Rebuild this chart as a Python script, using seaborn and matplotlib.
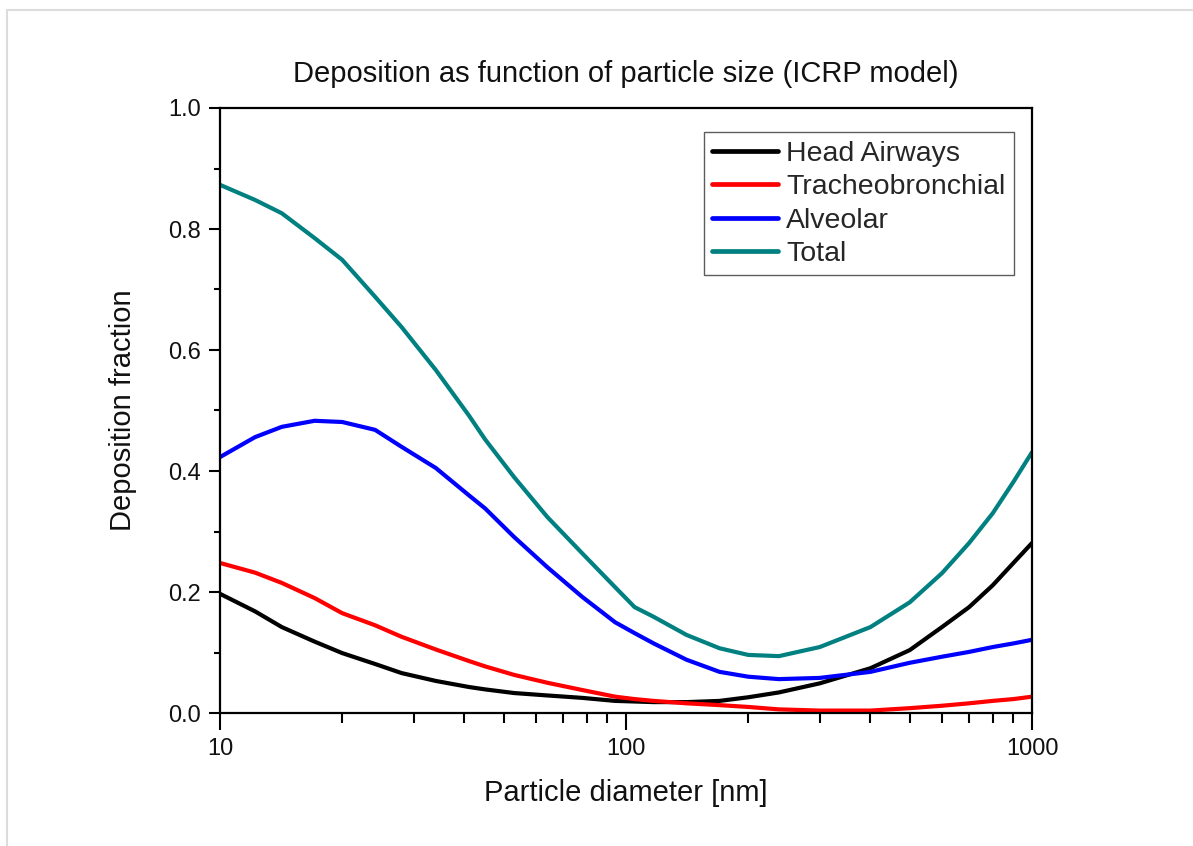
import matplotlib
matplotlib.use("Agg")
import matplotlib.pyplot as plt
from matplotlib.lines import Line2D
from matplotlib.ticker import FixedLocator, NullFormatter, MultipleLocator, FormatStrFormatter
import numpy as np
import pandas as pd
import seaborn as sns

diameter = [10, 12.2, 14.2, 17.1, 20, 24.1, 28, 34, 41, 45, 53, 64, 78, 94, 105, 117,
            141, 170, 200, 238, 300, 400, 500, 600, 700, 800, 900, 1000]
head_airways = [0.197, 0.168, 0.142, 0.118, 0.099, 0.081, 0.066, 0.053, 0.043, 0.039, 0.033,
                0.029, 0.025, 0.020, 0.019, 0.018, 0.018, 0.020, 0.026, 0.034, 0.049, 0.074,
                0.104, 0.142, 0.175, 0.211, 0.248, 0.281]
tracheobronchial = [0.248, 0.232, 0.215, 0.190, 0.165, 0.145, 0.126, 0.105, 0.086, 0.077, 0.063,
                    0.050, 0.038, 0.027, 0.023, 0.020, 0.016, 0.013, 0.010, 0.006, 0.004, 0.004,
                    0.008, 0.012, 0.016, 0.020, 0.023, 0.027]
alveolar = [0.423, 0.456, 0.473, 0.483, 0.481, 0.468, 0.440, 0.405, 0.360, 0.338, 0.291,
            0.241, 0.192, 0.150, 0.132, 0.115, 0.088, 0.068, 0.060, 0.056, 0.058, 0.068,
            0.083, 0.093, 0.101, 0.109, 0.115, 0.121]
total = [0.873, 0.848, 0.826, 0.785, 0.749, 0.688, 0.638, 0.567, 0.492, 0.452, 0.390,
         0.324, 0.264, 0.208, 0.175, 0.159, 0.129, 0.107, 0.096, 0.094, 0.109, 0.142,
         0.183, 0.231, 0.281, 0.330, 0.382, 0.431]

series_names = ["Head Airways", "Tracheobronchial", "Alveolar", "Total"]
series_colors = ["#000000", "#ff0000", "#0000ff", "#008080"]
x_major = [10, 100, 1000]
x_minor = [20, 30, 40, 50, 60, 70, 80, 90, 200, 300, 400, 500, 600, 700, 800, 900]

sns.set_theme(style="ticks")
plt.rcParams['font.family'] = ['Liberation Sans', 'DejaVu Sans']

fig = plt.figure(figsize=(11.93, 8.46), dpi=100)
ax = fig.add_axes([220/1193, 1-713/846, (1032-220)/1193, (713-108)/846])

for name, vals, col in zip(series_names, [head_airways, tracheobronchial, alveolar, total], series_colors):
    df = pd.DataFrame({"d": diameter, "v": vals})
    sns.lineplot(data=df, x="d", y="v", ax=ax, color=col, lw=3.0, label=name, sort=False)

ax.set_xscale("log")
ax.set_xlim(10, 1000)
ax.set_ylim(0, 1.0)
ax.xaxis.set_major_locator(FixedLocator(x_major))
ax.xaxis.set_minor_locator(FixedLocator(x_minor))
ax.xaxis.set_minor_formatter(NullFormatter())
ax.set_xticklabels([str(v) for v in x_major])
ax.yaxis.set_major_locator(MultipleLocator(0.2))
ax.yaxis.set_minor_locator(MultipleLocator(0.1))
ax.yaxis.set_major_formatter(FormatStrFormatter("%.1f"))

ax.tick_params(which="major", direction="out", length=8, width=1.5, labelsize=17,
               color="black", labelcolor="#111111", pad=6)
ax.tick_params(which="minor", direction="out", length=4, width=1.5, color="black")
ax.tick_params(axis="x", which="major", length=12)
ax.tick_params(axis="x", which="minor", length=7)
for s in ax.spines.values():
    s.set_visible(True)
    s.set_linewidth(1.6)
    s.set_color("black")

ax.set_xlabel("Particle diameter [nm]", fontsize=21, labelpad=14, color="#111111")
ax.set_ylabel("Deposition fraction", fontsize=21, labelpad=22, color="#111111")
ax.set_title("Deposition as function of particle size (ICRP model)", fontsize=21, pad=19,
             color="#111111")

leg = ax.legend(loc="upper right", bbox_to_anchor=((1014-220)/812, 0.96), fontsize=20.5,
                frameon=True, fancybox=False, edgecolor="#333333", handlelength=2.3,
                handletextpad=0.3, borderpad=0.3, labelspacing=0.26, borderaxespad=0)
leg.get_frame().set_linewidth(1.0)
for h in leg.get_lines():
    h.set_linewidth(3.4)

fig.add_artist(Line2D([7/1193, 1], [1-10/846, 1-10/846], color="#dcdcdc", lw=1.5,
                      transform=fig.transFigure))
fig.add_artist(Line2D([7/1193, 7/1193], [1-10/846, 0], color="#dcdcdc", lw=1.5,
                      transform=fig.transFigure))

fig.savefig("out.png", dpi=100, facecolor="white")
